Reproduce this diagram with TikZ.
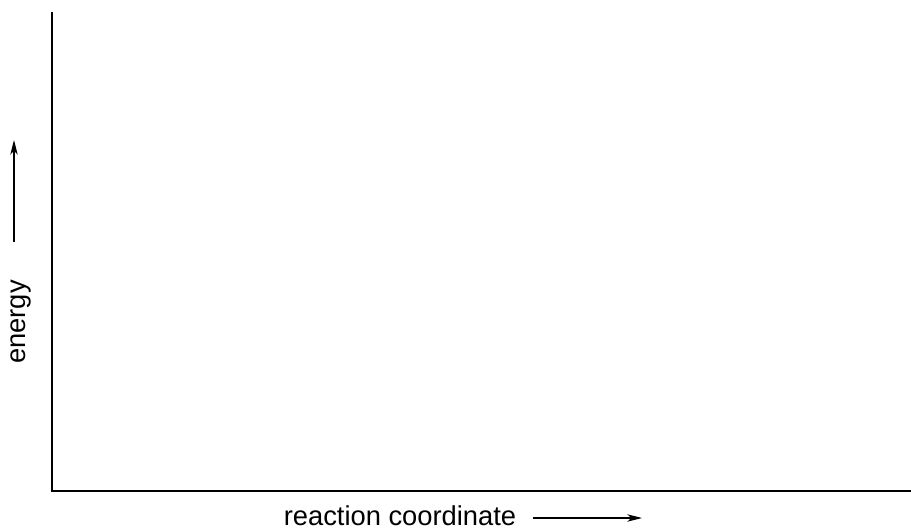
\documentclass[tikz,border=0pt]{standalone}
\usepackage{fontspec}
\setmainfont{Liberation Sans}
\usetikzlibrary{arrows.meta}

\tikzset{
  axisline/.style={line width=1.5pt, line join=miter},
  hintarrow/.style={line width=1pt, -{Stealth[length=11pt,width=5.5pt,inset=3pt]}},
  axislabel/.style={inner sep=0pt, font=\fontsize{20.5}{24}\selectfont}
}

\begin{document}
\begin{tikzpicture}[x=0.75pt,y=0.75pt,yscale=-1,xscale=1]
%set diagram to 911 x 531
\useasboundingbox (0,0) rectangle (911,531);
% axes
\coordinate (ytop) at (52,12);
\coordinate (origin) at (52,491);
\coordinate (xend) at (911,491);
\draw [axisline] (ytop) -- (origin) -- (xend);
% labels
\node [axislabel, rotate=90] (energy) at (21,322) {energy};
\node [axislabel] (reaction) at (400,516) {reaction coordinate};
% arrows beside labels
\coordinate (eStart) at (14,242);
\coordinate (eEnd) at (14,140);
\draw [hintarrow] (eStart) -- (eEnd);
\coordinate (rStart) at (533,518);
\coordinate (rEnd) at (642,518);
\draw [hintarrow] (rStart) -- (rEnd);
\end{tikzpicture}
\end{document}
